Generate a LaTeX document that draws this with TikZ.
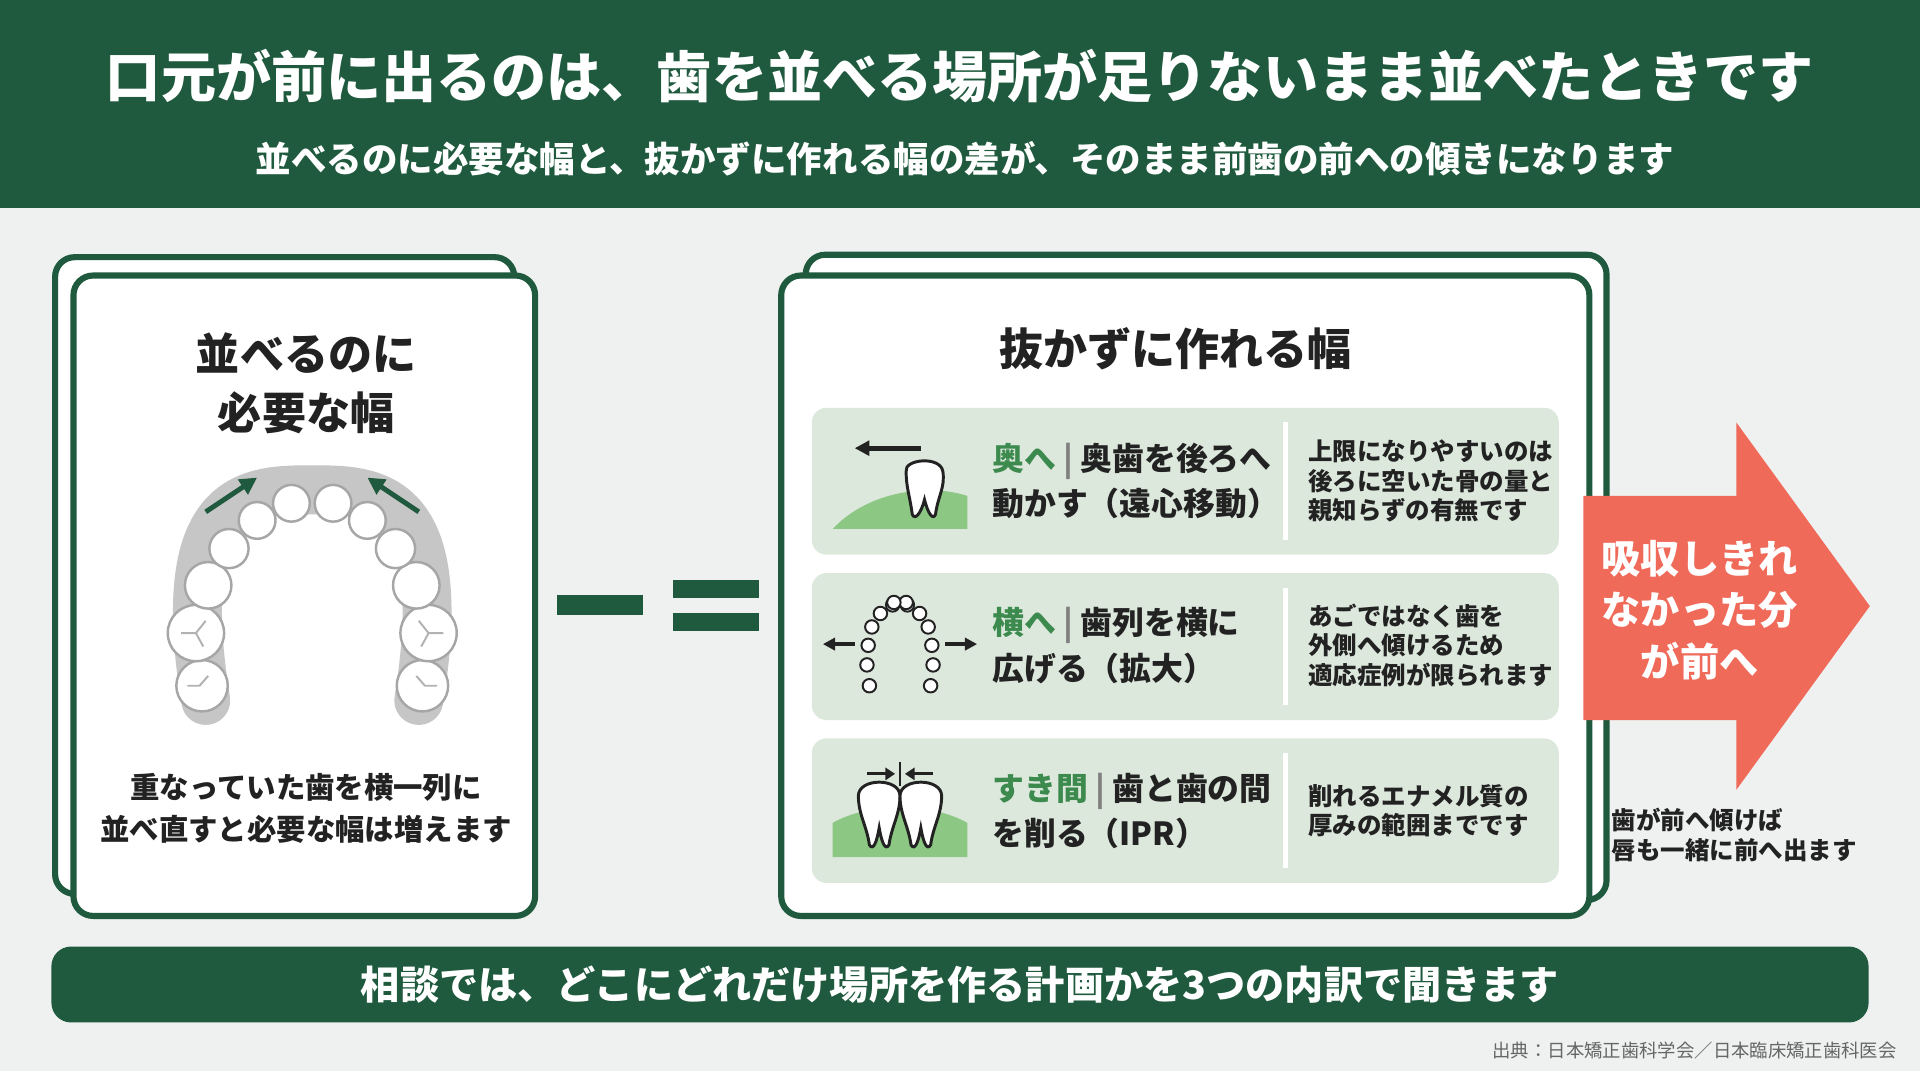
\documentclass[tikz,border=0pt]{standalone}
\usepackage{fontspec}
\setmainfont{Noto Sans CJK JP}
\usetikzlibrary{arrows.meta}
\definecolor{dg}{HTML}{1F5A3E}
\definecolor{bg}{HTML}{EEF1F0}
\definecolor{rowbg}{HTML}{DDE8DD}
\definecolor{lg}{HTML}{3C8A4E}
\definecolor{gnd}{HTML}{8CC784}
\definecolor{red}{HTML}{F06A5A}
\definecolor{txt}{HTML}{222222}
\begin{document}
\begin{tikzpicture}[x=0.5pt,y=-0.5pt,
 card/.style={draw=dg,line width=2.5pt,fill=white,rounded corners=8pt},
 back/.style={draw=dg,line width=2.5pt,fill=white,rounded corners=8pt},
 row/.style={fill=rowbg,rounded corners=6pt},
 rt/.style={anchor=west,font=\bfseries\fontsize{13}{15}\selectfont,text=txt,inner sep=0},
 st/.style={anchor=west,font=\bfseries\fontsize{10}{12}\selectfont,text=txt,inner sep=0},
 tooth/.style={draw=gray!70,fill=white,line width=1pt},
 garr/.style={-{Triangle[length=7pt,width=7pt]},line width=2pt,draw=dg}]
\useasboundingbox (0,0) rectangle (1568,875);
\fill[bg] (0,0) rectangle (1568,875);
\fill[dg] (0,0) rectangle (1568,170);
\node[text=white,font=\bfseries\fontsize{22.5}{26}\selectfont] (title) at (784,62) {口元が前に出るのは、歯を並べる場所が足りないまま並べたときです};
\node[text=white,font=\bfseries\fontsize{14.5}{17}\selectfont] (sub) at (788,130) {並べるのに必要な幅と、抜かずに作れる幅の差が、そのまま前歯の前への傾きになります};
% left card
\draw[back] (45,210) rectangle (420,730);
\draw[card] (60,225) rectangle (437,748);
\node[font=\bfseries\fontsize{18}{24}\selectfont,align=center,text=txt] (lt) at (250,313) {並べるのに\\必要な幅};
% arch
\draw[line width=20pt,gray!45,line cap=round] (168,572) .. controls (140,400) and (205,400) .. (255,400) .. controls (305,400) and (370,400) .. (342,572);
\foreach \x/\y/\s in {165/560/21,160/517/23,170/478/19,187/448/16,210/425/15,238/411/15}{
 \draw[tooth] (\x,\y) circle (\s);
 \draw[tooth] ({510-\x},\y) circle (\s);}
\draw[gray!60,line width=0.8pt] (148,517)--(160,517)--(168,507) (160,517)--(166,528) (362,517)--(350,517)--(342,507) (350,517)--(344,528)
 (153,560)--(163,560)--(170,552) (357,560)--(347,560)--(340,552);
\coordinate (a1s) at (168,418); \coordinate (a1e) at (210,390);
\coordinate (a2s) at (342,418); \coordinate (a2e) at (300,390);
\draw[garr] (a1s)--(a1e); \draw[garr] (a2s)--(a2e);
\node[font=\bfseries\fontsize{12}{17}\selectfont,align=center,text=txt] (lb) at (250,660) {重なっていた歯を横一列に\\並べ直すと必要な幅は増えます};
% minus equals
\fill[dg] (455,486) rectangle (525,502);
\fill[dg] (550,474) rectangle (620,488);
\fill[dg] (550,501) rectangle (620,515);
% right card
\draw[back] (658,208) rectangle (1312,735);
\draw[card] (638,225) rectangle (1298,748);
\node[font=\bfseries\fontsize{18}{22}\selectfont,text=txt] (rt) at (960,285) {抜かずに作れる幅};
\foreach \ya/\yb in {333/453,468/588,603/721}{
 \fill[row] (663,\ya) rectangle (1273,\yb);
 \draw[white,line width=2pt] (1050,{\ya+12})--(1050,{\yb-12});}
% row1 icon
\fill[gnd] (680,432) .. controls (710,400) and (760,395) .. (790,405) -- (790,432) -- cycle;
\draw[tooth,draw=txt,line width=1.2pt] (740,385) .. controls (738,375) and (768,372) .. (770,385) .. controls (772,398) and (766,405) .. (764,420) .. controls (762,425) and (758,420) .. (755,408) .. controls (752,420) and (747,425) .. (745,420) .. controls (743,405) and (740,398) .. (740,385);
\coordinate (b1s) at (752,366); \coordinate (b1e) at (698,366);
\draw[-{Triangle[length=6pt,width=6pt]},line width=2pt,txt] (b1s)--(b1e);
\node[rt] (r1a) at (810,377) {\textcolor{lg}{奥へ} \textcolor{gray}{|} 奥歯を後ろへ};
\node[rt] (r1b) at (810,411) {動かす（遠心移動）};
\node[st,align=left] (r1c) at (1068,393) {上限になりやすいのは\\後ろに空いた骨の量と\\親知らずの有無です};
% row2 icon
\foreach \x/\y in {710/560,708/543,709/527,712/512,719/501,729/494,740/492}{
 \draw[draw=txt,fill=white,line width=0.8pt] (\x,\y) circle (5.5);
 \draw[draw=txt,fill=white,line width=0.8pt] ({1470-\x},\y) circle (5.5);}
\coordinate (c1s) at (698,526); \coordinate (c1e) at (672,526);
\coordinate (c2s) at (772,526); \coordinate (c2e) at (798,526);
\draw[-{Triangle[length=5pt,width=5pt]},line width=1.5pt,txt] (c1s)--(c1e);
\draw[-{Triangle[length=5pt,width=5pt]},line width=1.5pt,txt] (c2s)--(c2e);
\node[rt] (r2a) at (810,511) {\textcolor{lg}{横へ} \textcolor{gray}{|} 歯列を横に};
\node[rt] (r2b) at (810,546) {広げる（拡大）};
\node[st,align=left] (r2c) at (1068,527) {あごではなく歯を\\外側へ傾けるため\\適応症例が限られます};
% row3 icon
\fill[gnd] (680,700) -- (680,672) .. controls (710,655) and (760,655) .. (790,672) -- (790,700) -- cycle;
\foreach \cx in {718,752}{
\draw[fill=white,draw=txt,line width=1.2pt] ({\cx-17},650) .. controls ({\cx-17},635) and ({\cx+17},635) .. ({\cx+17},650) .. controls ({\cx+17},665) and ({\cx+10},675) .. ({\cx+8},690) .. controls ({\cx+5},695) and ({\cx+2},688) .. (\cx,676) .. controls ({\cx-2},688) and ({\cx-5},695) .. ({\cx-8},690) .. controls ({\cx-10},675) and ({\cx-17},665) .. ({\cx-17},650);}
\coordinate (d1s) at (708,632); \coordinate (d1e) at (731,632);
\coordinate (d2s) at (762,632); \coordinate (d2e) at (739,632);
\draw[-{Triangle[length=4pt,width=5pt]},line width=1.3pt,txt] (d1s)--(d1e);
\draw[-{Triangle[length=4pt,width=5pt]},line width=1.3pt,txt] (d2s)--(d2e);
\draw[txt,line width=1.2pt] (735,622)--(735,642);
\node[rt] (r3a) at (810,646) {\textcolor{lg}{すき間} \textcolor{gray}{|} 歯と歯の間};
\node[rt] (r3b) at (810,681) {を削る（IPR）};
\node[st,align=left] (r3c) at (1068,662) {削れるエナメル質の\\厚みの範囲までです};
% red arrow
\fill[red] (1293,405) -- (1418,405) -- (1418,345) -- (1527,495) -- (1418,645) -- (1418,588) -- (1293,588) -- cycle;
\node[text=white,font=\bfseries\fontsize{16}{21}\selectfont,align=center] (ra) at (1388,498) {吸収しきれ\\なかった分\\が前へ};
\node[st,align=left] (rn) at (1316,682) {歯が前へ傾けば\\唇も一緒に前へ出ます};
% bottom bar
\fill[dg,rounded corners=8pt] (42,773) rectangle (1526,835);
\node[text=white,font=\bfseries\fontsize{16}{18}\selectfont] (bt) at (784,804) {相談では、どこにどれだけ場所を作る計画かを3つの内訳で聞きます};
\node[anchor=east,text=gray!80!black,font=\fontsize{7.5}{9}\selectfont] (src) at (1556,858) {出典：日本矯正歯科学会／日本臨床矯正歯科医会};
\end{tikzpicture}
\end{document}
